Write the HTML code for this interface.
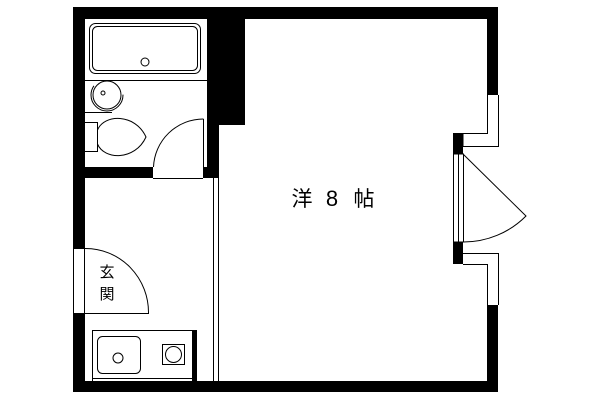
<!DOCTYPE html>
<html><head><meta charset="utf-8"><style>body{margin:0;background:#fff}svg{display:block}</style></head><body>
<svg width="600" height="400" viewBox="0 0 600 400" xmlns="http://www.w3.org/2000/svg">
<rect width="600" height="400" fill="#fff"/>
<g fill="#000">
<rect x="73" y="7" width="425" height="12"/>
<rect x="73" y="7" width="12" height="241"/>
<rect x="73" y="313" width="12" height="79"/>
<rect x="73" y="381" width="425" height="11"/>
<rect x="207" y="7" width="38" height="118"/>
<rect x="207" y="7" width="12" height="171"/>
<rect x="85" y="167" width="68" height="11"/>
<rect x="203" y="167" width="16" height="11"/>
<rect x="487" y="7" width="11" height="88"/>
<rect x="487" y="305" width="11" height="87"/>
<rect x="453" y="133" width="10" height="21"/>
<rect x="453" y="242" width="10" height="22"/>
<rect x="192" y="330" width="5" height="52"/>
</g>
<g fill="none" stroke="#000" stroke-width="1">
<rect x="73.5" y="248.5" width="11" height="65" fill="#fff"/>
<line x1="153" y1="178.5" x2="203" y2="178.5"/>
<rect x="89.5" y="23.5" width="111" height="50" rx="6"/>
<rect x="92.5" y="26.5" width="105" height="44" rx="5"/>
<circle cx="145" cy="62" r="4"/>
<line x1="85" y1="80.5" x2="207" y2="80.5"/>
<circle cx="107" cy="95" r="14"/>
<circle cx="107" cy="95" r="16" stroke-dasharray="60 40"/>
<circle cx="103" cy="93" r="2"/>
<line x1="85" y1="112.5" x2="112" y2="112.5"/>
<polyline points="85,122.5 97.5,122.5 97.5,151.5 85,151.5"/>
<path d="M97.5,130 C104,114 135,113 146,137 C135,161 104,160 97.5,144"/>
<line x1="203.5" y1="119" x2="203.5" y2="167"/>
<path d="M153.5,167 A50,50 0 0 1 203.5,119"/>
<line x1="213.5" y1="178" x2="213.5" y2="381"/>
<line x1="218.5" y1="178" x2="218.5" y2="381"/>
<path d="M85,248.5 A63,64 0 0 1 148.5,313.5 L85,313.5"/>
<rect x="92.5" y="330.5" width="100" height="51"/>
<line x1="92" y1="378.5" x2="192" y2="378.5"/>
<rect x="97.5" y="336.5" width="43" height="37" rx="5"/>
<circle cx="118" cy="358" r="5"/>
<rect x="162.5" y="344.5" width="22" height="20"/>
<circle cx="173.5" cy="354.5" r="8"/>
<polyline points="487.5,95 487.5,133.5 463,133.5 463,146.5 498.5,146.5 498.5,95"/>
<polyline points="463,253.5 498.5,253.5 498.5,305"/>
<polyline points="463,264.5 487.5,264.5 487.5,305"/>
<rect x="453.5" y="154" width="10" height="88"/>
<line x1="458.5" y1="154" x2="458.5" y2="242"/>
<path d="M463,154 L526,216 A88,88 0 0 1 463,242"/>
</g>
<g font-family="'Liberation Sans','Noto Sans CJK JP',sans-serif" font-size="21" text-anchor="middle">
<text x="302" y="206">洋</text>
<text x="332" y="206" font-size="22">8</text>
<text x="364" y="206">帖</text>
</g>
<text x="107" y="277" font-family="'Liberation Sans','Noto Sans CJK JP',sans-serif" font-size="15" text-anchor="middle">玄</text>
<text x="107" y="299" font-family="'Liberation Sans','Noto Sans CJK JP',sans-serif" font-size="15" text-anchor="middle">関</text>
</svg>
</body></html>
